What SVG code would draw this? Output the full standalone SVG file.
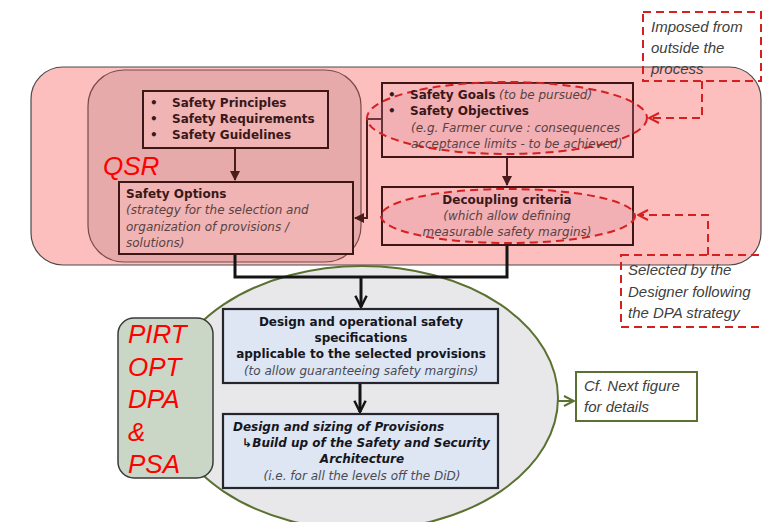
<svg xmlns="http://www.w3.org/2000/svg" width="763" height="522" viewBox="0 0 763 522">
  <style>
    .b { font-family: "DejaVu Sans", Verdana, sans-serif; font-size: 12px; font-weight: bold; fill: #3a1818; }
    .i { font-family: "DejaVu Sans", Verdana, sans-serif; font-size: 12px; font-style: italic; fill: #5a4242; }
    .bn { font-family: "DejaVu Sans", Verdana, sans-serif; font-size: 12px; font-weight: bold; fill: #16161e; }
    .in { font-family: "DejaVu Sans", Verdana, sans-serif; font-size: 12px; font-style: italic; fill: #4a4a55; }
    .big { font-family: "Liberation Sans", Arial, sans-serif; font-size: 26px; font-style: italic; fill: #ff0000; }
    .note { font-family: "Liberation Sans", Arial, sans-serif; font-size: 15px; font-style: italic; fill: #404040; }
    .pinkbox { fill: #f0b4b4; stroke: #3f1616; stroke-width: 2; }
    .bluebox { fill: #dde6f2; stroke: #25252d; stroke-width: 2.2; }
    .dash { fill: none; stroke: #d61f1f; stroke-width: 2; stroke-dasharray: 8 5; }
    .zone { fill: rgba(225, 140, 160, 0.25); stroke: #d61f1f; stroke-width: 2; stroke-dasharray: 8 5; }
    .brown { fill: none; stroke: #4a1c1c; stroke-width: 2; }
    .black { fill: none; stroke: #141414; stroke-width: 3; }
    .green { fill: none; stroke: #5b7132; stroke-width: 2; }
  </style>
  <defs>
    <marker id="arrBrown" viewBox="0 0 10 10" refX="9" refY="5" markerWidth="5" markerHeight="5" orient="auto" markerUnits="strokeWidth">
      <path d="M0,0 L10,5 L0,10 z" fill="#4a1c1c"/>
    </marker>
    <marker id="arrBlack" viewBox="0 0 12 12" refX="11" refY="6" markerWidth="4.5" markerHeight="4.5" orient="auto" markerUnits="strokeWidth">
      <path d="M1,1 L11,6 L1,11" fill="none" stroke="#141414" stroke-width="2.2"/>
    </marker>
    <marker id="arrRed" viewBox="0 0 12 12" refX="11" refY="6" markerWidth="6" markerHeight="6" orient="auto" markerUnits="strokeWidth">
      <path d="M1,1 L11,6 L1,11" fill="none" stroke="#d61f1f" stroke-width="2"/>
    </marker>
    <marker id="arrGreen" viewBox="0 0 12 12" refX="11" refY="6" markerWidth="6" markerHeight="6" orient="auto" markerUnits="strokeWidth">
      <path d="M1,1 L11,6 L1,11" fill="none" stroke="#5b7132" stroke-width="2"/>
    </marker>
  </defs>

  <!-- background zones -->
  <g id="upstream-zone">
    <rect x="31" y="67" width="730" height="198" rx="32" fill="#fdbebe" stroke="#4a4a4a" stroke-width="1.2"/>
  </g>
  <g id="qsr-zone">
    <rect x="88" y="70" width="273" height="192" rx="36" fill="#e6aaaa" stroke="#7a4a4a" stroke-width="1.2"/>
    <text class="big" x="103" y="175">QSR</text>
  </g>
  <g id="design-zone">
    <ellipse cx="362" cy="398" rx="196" ry="132" fill="#e8e8ea" stroke="#5b7132" stroke-width="2"/>
  </g>

  <!-- connectors -->
  <g id="connectors">
    <path class="brown" d="M235,148 V180" marker-end="url(#arrBrown)"/>
    <path class="brown" d="M382,119 H367 V218 H355" marker-end="url(#arrBrown)"/>
    <path class="brown" d="M507,157 V185" marker-end="url(#arrBrown)"/>
    <path class="black" d="M235,254 V277 H507 V245"/>
    <path class="black" d="M361,277 V307" marker-end="url(#arrBlack)"/>
    <path class="black" d="M360,383 V412" marker-end="url(#arrBlack)"/>
    <path class="green" d="M558,401 H574" marker-end="url(#arrGreen)"/>
    <path class="dash" d="M702,81 V118 H649" marker-end="url(#arrRed)"/>
    <path class="dash" d="M708,255 V215 H638" marker-end="url(#arrRed)"/>
  </g>

  <!-- nodes -->
  <g id="safety-principles">
    <rect class="pinkbox" x="143" y="91" width="185" height="57"/>
    <text class="b" x="150" y="107">•</text>
    <text class="b" x="150" y="123">•</text>
    <text class="b" x="150" y="139">•</text>
    <text class="b" x="172" y="107">Safety Principles</text>
    <text class="b" x="172" y="123">Safety Requirements</text>
    <text class="b" x="172" y="139">Safety Guidelines</text>
  </g>

  <g id="safety-options">
    <rect class="pinkbox" x="119" y="182" width="234" height="72"/>
    <text class="b" x="126" y="198">Safety Options</text>
    <text class="i" x="126" y="214">(strategy for the selection and</text>
    <text class="i" x="126" y="231">organization of provisions /</text>
    <text class="i" x="126" y="247">solutions)</text>
  </g>

  <g id="safety-goals">
    <rect x="382" y="83" width="251" height="74" fill="#f9bbbb" stroke="#3f1616" stroke-width="2"/>
    <ellipse class="zone" cx="507" cy="118" rx="140" ry="36"/>
    <text class="b" x="388" y="99">•</text>
    <text class="b" x="388" y="115">•</text>
    <text x="410" y="99"><tspan class="b">Safety Goals</tspan><tspan class="i"> (to be pursued)</tspan></text>
    <text class="b" x="410" y="115">Safety Objectives</text>
    <text class="i" x="411" y="132">(e.g. Farmer curve : consequences</text>
    <text class="i" x="411" y="148">acceptance limits - to be achieved)</text>
  </g>

  <g id="decoupling-criteria">
    <rect x="382" y="187" width="251" height="58" fill="#f9bbbb" stroke="#3f1616" stroke-width="2"/>
    <ellipse class="zone" cx="508" cy="216" rx="127" ry="27"/>
    <text class="b" x="507" y="204" text-anchor="middle">Decoupling criteria</text>
    <text class="i" x="507" y="220" text-anchor="middle">(which allow defining</text>
    <text class="i" x="507" y="236" text-anchor="middle">measurable safety margins)</text>
  </g>

  <g id="methods">
    <rect x="118" y="318" width="95" height="160" rx="16" fill="#cbd7c6" stroke="#3a3a3a" stroke-width="1.5"/>
    <text class="big" x="128" y="343">PIRT</text>
    <text class="big" x="128" y="376">OPT</text>
    <text class="big" x="128" y="408">DPA</text>
    <text class="big" x="128" y="441">&amp;</text>
    <text class="big" x="128" y="473">PSA</text>
  </g>

  <g id="safety-specifications">
    <rect class="bluebox" x="223" y="309" width="275" height="74"/>
    <text class="bn" x="361" y="326" text-anchor="middle">Design and operational safety</text>
    <text class="bn" x="361" y="342" text-anchor="middle">specifications</text>
    <text class="bn" x="361" y="358" text-anchor="middle">applicable to the selected provisions</text>
    <text class="in" x="361" y="375" text-anchor="middle">(to allow guaranteeing safety margins)</text>
  </g>

  <g id="provisions">
    <rect class="bluebox" x="223" y="414" width="275" height="74"/>
    <text class="bn" x="233" y="431" font-style="italic">Design and sizing of Provisions</text>
    <text x="366" y="447" text-anchor="middle"><tspan class="bn" font-style="italic" font-weight="normal" font-size="11" fill="#3a3a44">↳</tspan><tspan class="bn" font-style="italic" fill="#b5404f">Build up of the Safety and Security</tspan></text>
    <text class="bn" x="362" y="463" text-anchor="middle" font-style="italic" fill="#b5404f">Architecture</text>
    <text class="in" x="362" y="480" text-anchor="middle">(i.e. for all the levels off the DiD)</text>
  </g>

  <g id="next-figure">
    <rect x="576" y="372" width="121" height="49" fill="#ffffff" stroke="#5b7132" stroke-width="2"/>
    <text class="note" x="584" y="391">Cf. Next figure</text>
    <text class="note" x="584" y="412">for details</text>
  </g>

  <g id="imposed-note">
    <rect class="dash" x="643" y="12" width="118" height="69"/>
    <text class="note" x="651" y="32">Imposed from</text>
    <text class="note" x="651" y="53">outside the</text>
    <text class="note" x="651" y="74">process</text>
  </g>

  <g id="selected-note">
    <rect class="dash" x="621" y="255" width="150" height="72"/>
    <text class="note" x="628" y="275">Selected by the</text>
    <text class="note" x="628" y="297">Designer following</text>
    <text class="note" x="628" y="318">the DPA strategy</text>
  </g>
</svg>
